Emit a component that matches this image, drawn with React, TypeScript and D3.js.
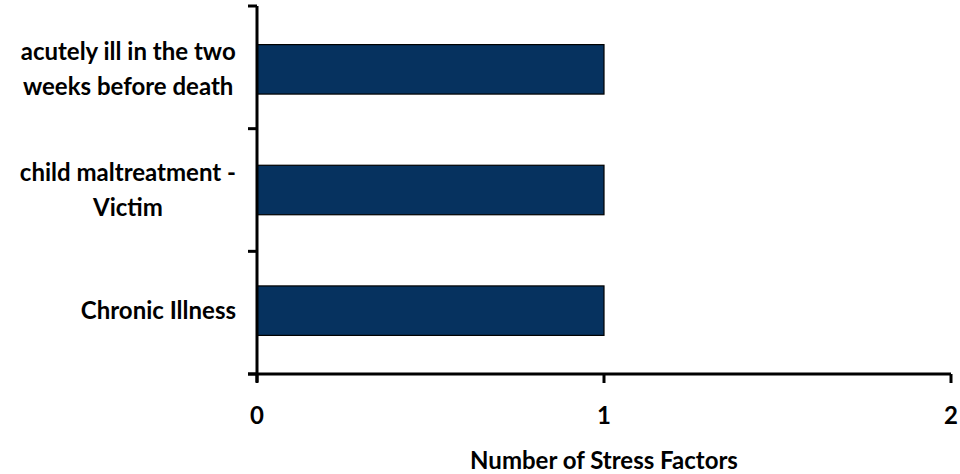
import React from "react";
import * as d3 from "d3";

const categories = [
  ["acutely ill in the two", "weeks before death"],
  ["child maltreatment -", "Victim"],
  ["Chronic Illness"],
];
const values = [1, 1, 1];
const xTicks = [0, 1, 2];
const xTitle = "Number of Stress Factors";

const font = "Lato, 'Open Sans', sans-serif";
const fontSize = 24;

// width of a string in the label font, used to right-align each centred label block
function textWidth(s: string) {
  const ctx = document.createElement("canvas").getContext("2d");
  if (!ctx) return s.length * fontSize * 0.5;
  ctx.font = `bold ${fontSize}px ${font}`;
  return ctx.measureText(s).width;
}

export default function App() {
  const width = 960;
  const height = 474;
  const left = 257;
  const right = 951;
  const top = 6;
  const bottom = 374;

  const x = d3.scaleLinear().domain([0, 2]).range([left, right]);
  const y = d3
    .scaleBand<number>()
    .domain(categories.map((_, i) => i))
    .range([top, bottom])
    .paddingInner(0.59)
    .paddingOuter(0.32);

  const step = (bottom - top) / categories.length;
  const bandTicks = d3.range(categories.length + 1).map((i) => top + i * step);

  return (
    <svg
      width={width}
      height={height}
      style={{ position: "absolute", left: 0, top: 0 }}
      fontFamily={font}
    >
      <rect width={width} height={height} fill="#fff" />
      {values.map((v, i) => (
        <rect
          key={i}
          x={x(0)}
          y={y(i)}
          width={x(v) - x(0)}
          height={y.bandwidth()}
          fill="#06325f"
          stroke="#000"
          strokeWidth={1.2}
        />
      ))}
      {/* y axis */}
      <line x1={left} x2={left} y1={top} y2={bottom + 8} stroke="#000" strokeWidth={3} />
      {bandTicks.map((t, i) => (
        <line key={i} x1={left - 9} x2={left} y1={t} y2={t} stroke="#000" strokeWidth={3} />
      ))}
      {/* x axis */}
      <line x1={left - 9} x2={right} y1={bottom} y2={bottom} stroke="#000" strokeWidth={3} />
      {xTicks.map((t) => (
        <g key={t}>
          <line x1={x(t)} x2={x(t)} y1={bottom} y2={bottom + 9} stroke="#000" strokeWidth={3} />
          <text
            x={x(t)}
            y={424}
            textAnchor="middle"
            fontSize={fontSize}
            fontWeight="bold"
            fill="#000"
          >
            {t}
          </text>
        </g>
      ))}
      {categories.map((lines, i) => {
        const cy = (y(i) as number) + y.bandwidth() / 2;
        const lh = 35;
        const y0 = cy - ((lines.length - 1) * lh) / 2;
        const blockW = Math.max(...lines.map(textWidth));
        const cx = 236 - blockW / 2;
        return (
          <text
            key={i}
            textAnchor="middle"
            fontSize={fontSize}
            fontWeight="bold"
            fill="#000"
          >
            {lines.map((l, j) => (
              <tspan key={j} x={cx} y={y0 + j * lh + 8}>
                {l}
              </tspan>
            ))}
          </text>
        );
      })}
      <text
        x={x(1)}
        y={469}
        textAnchor="middle"
        fontSize={fontSize}
        fontWeight="bold"
        fill="#000"
      >
        {xTitle}
      </text>
    </svg>
  );
}
